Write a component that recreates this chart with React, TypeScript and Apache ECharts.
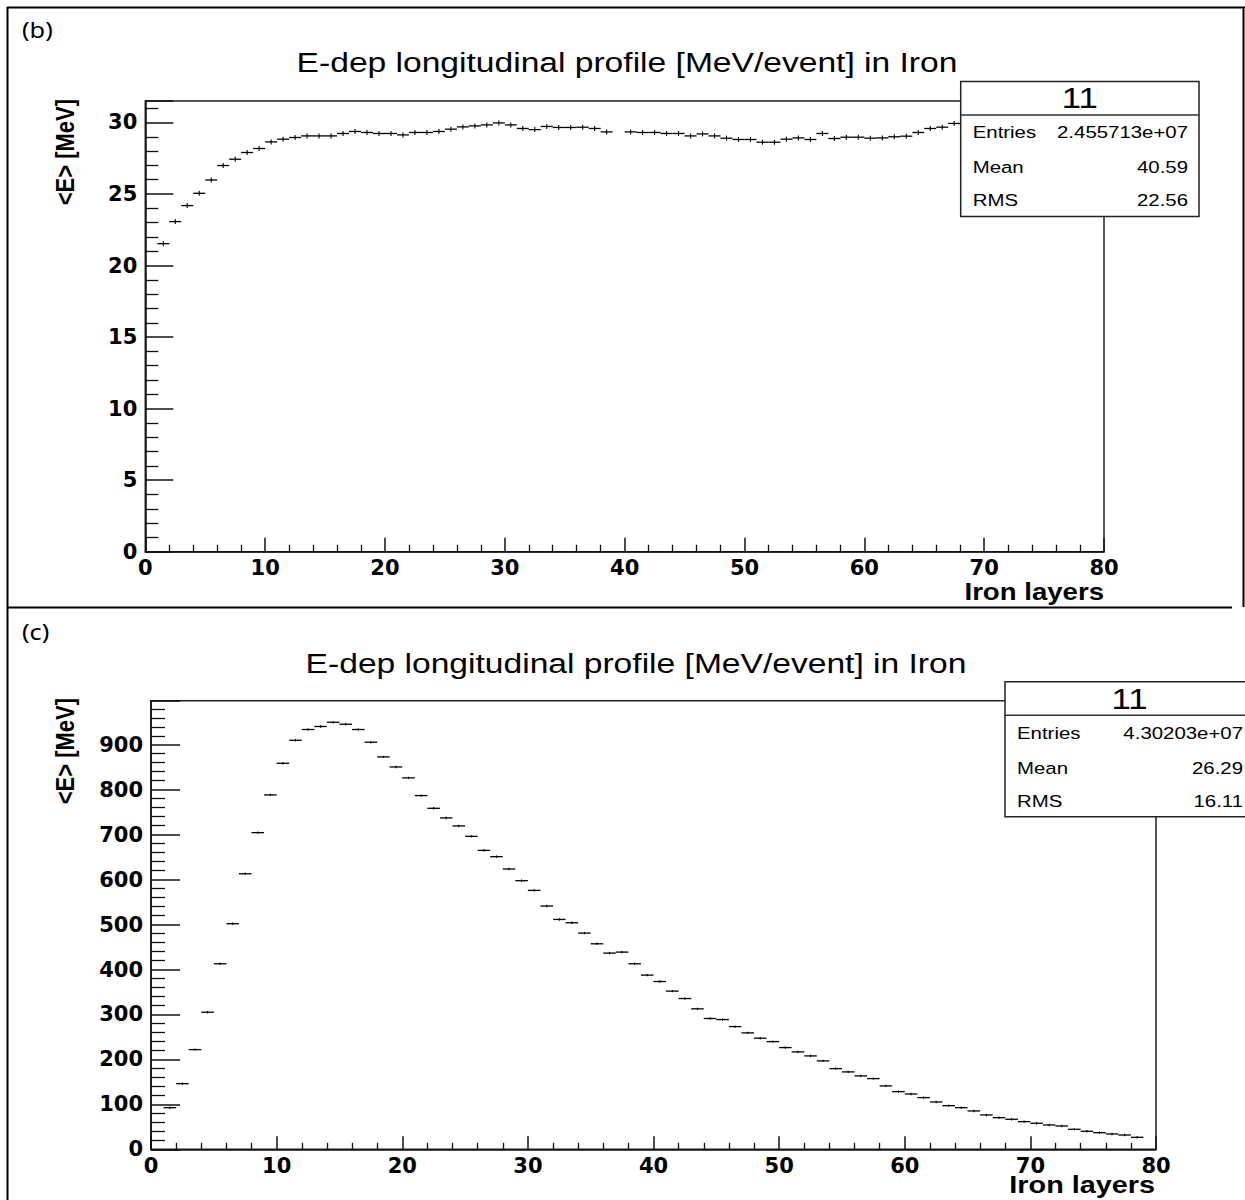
import React, { useEffect, useRef } from 'react';
import * as echarts from 'echarts';

// Panel (b): mean energy deposit per iron layer (bin k covers layer k..k+1); null = empty bin
const layersB = Array.from({ length: 67 }, (_, i) => i + 1);
const valuesB = [
  21.53, 23.07, 24.19, 25.05, 25.98, 26.99, 27.43, 27.9, 28.18, 28.64,
  28.83, 28.95, 29.06, 29.06, 29.06, 29.23, 29.37, 29.3, 29.23, 29.23,
  29.13, 29.3, 29.3, 29.37, 29.53, 29.69, 29.76, 29.83, 29.97, 29.83,
  29.58, 29.5, 29.72, 29.65, 29.65, 29.67, 29.58, 29.34, null, 29.34,
  29.3, 29.3, 29.23, 29.23, 29.06, 29.2, 29.06, 28.9, 28.81, 28.81,
  28.62, 28.62, 28.83, 28.92, 28.81, 29.23, 28.88, 28.97, 28.97, 28.9,
  28.92, 29.0, 29.04, 29.3, 29.58, 29.67, 29.93,
];

// Panel (c)
const layersC = Array.from({ length: 78 }, (_, i) => i + 1);
const valuesC = [
  92.6, 146, 221.8, 305, 412.7, 501.8, 613, 704.5, 788.4, 858.8,
  910, 933.9, 940.6, 950, 945.7, 933.9, 905.6, 873, 850.6, 826.3,
  786.9, 758.6, 737.2, 719.4, 696.2, 665, 651, 623.6, 597.6, 576,
  541.2, 511.4, 504, 481, 457.2, 436.5, 438.7, 412.7, 387.5, 373.3,
  351.9, 335.4, 312.5, 291, 288.6, 273, 259, 247.2, 239.6, 226.3,
  216.7, 207.8, 196.7, 179.5, 172.2, 163.3, 157.3, 141, 128.3, 123,
  115, 105.3, 97.1, 92.6, 85.3, 76.4, 70.4, 66.8, 61.5, 57.9,
  54.1, 51.9, 44.5, 40.1, 37, 34.1, 31.8, 26.7,
];

const statLabels = ['Entries', 'Mean', 'RMS'];
const statValuesB = ['2.455713e+07', '40.59', '22.56'];
const statValuesC = ['4.30203e+07', '26.29', '16.11'];
const histName = '11';
const titleText = 'E-dep longitudinal profile [MeV/event] in Iron';
const xTitle = 'Iron layers';
const yTitle = '<E> [MeV]';

const toData = (layers: number[], vals: (number | null)[]) =>
  layers
    .map((l, i) => (vals[i] == null ? null : [l, vals[i] as number]))
    .filter((d) => d !== null) as number[][];

const renderBin = (half: number) => (params: any, api: any) => {
  const x0 = api.value(0);
  const v = api.value(1);
  const a = api.coord([x0, v]);
  const b = api.coord([x0 + 1, v]);
  const mid = (a[0] + b[0]) / 2;
  return {
    type: 'group',
    children: [
      { type: 'line', shape: { x1: a[0], y1: a[1], x2: b[0], y2: b[1] }, style: { stroke: '#000', lineWidth: 1.3 } },
      { type: 'line', shape: { x1: mid, y1: a[1] - half, x2: mid, y2: a[1] + half }, style: { stroke: '#000', lineWidth: 1.1 } },
    ],
  };
};

const FONT = 'Liberation Sans';
const SX = 1.2;

const txt = (text: string, x: number, y: number, size: number, align: string, extra: any = {}) => ({
  type: 'text',
  x,
  y,
  z: 100,
  scaleX: SX,
  style: { text, fontFamily: FONT, fontSize: size, fill: '#000', align, verticalAlign: 'middle' },
  ...extra,
});

const ln = (x1: number, y1: number, x2: number, y2: number, w = 2, color = '#000') => ({
  type: 'line',
  z: 100,
  shape: { x1, y1, x2, y2 },
  style: { stroke: color, lineWidth: w },
});

const statsBox = (left: number, top: number, width: number, values: string[]) => {
  const els: any[] = [
    { type: 'rect', z: 99, shape: { x: left, y: top, width, height: 135 }, style: { fill: '#fff', stroke: '#222', lineWidth: 1.5 } },
    ln(left, top + 33.5, left + width, top + 33.5, 1.5, '#333'),
    txt(histName, left + width / 2, top + 17, 29, 'center'),
  ];
  const rowY = [top + 51, top + 86, top + 119];
  statLabels.forEach((s, i) => {
    els.push(txt(s, left + 12, rowY[i], 17, 'left'));
    els.push(txt(values[i], left + width - 11, rowY[i], 17, 'right'));
  });
  return els;
};

const xAxisCfg = (grid: number, tickLen: number, fs: number) => ({
  gridIndex: grid,
  type: 'value',
  min: 0,
  max: 80,
  interval: 10,
  axisLine: { show: true, onZero: false, lineStyle: { color: '#111', width: 1.5 } },
  axisTick: { show: true, inside: true, length: tickLen, lineStyle: { color: '#111', width: 1.5 } },
  minorTick: { show: true, splitNumber: 5, length: tickLen / 2, lineStyle: { color: '#111', width: 1.3 } },
  splitLine: { show: false },
  minorSplitLine: { show: false },
  axisLabel: { color: '#000', fontFamily: 'DejaVu Sans', fontWeight: 'bold', fontSize: fs, margin: 6 },
});

const yAxisCfg = (grid: number, max: number, interval: number, tickLen: number, fs: number) => ({
  gridIndex: grid,
  type: 'value',
  min: 0,
  max,
  interval,
  axisLine: { show: true, onZero: false, lineStyle: { color: '#111', width: 1.5 } },
  axisTick: { show: true, inside: true, length: tickLen, lineStyle: { color: '#111', width: 1.5 } },
  minorTick: { show: true, splitNumber: 5, length: Math.round(tickLen / 2.1), lineStyle: { color: '#111', width: 1.3 } },
  splitLine: { show: false },
  minorSplitLine: { show: false },
  axisLabel: {
    color: '#000',
    fontFamily: 'DejaVu Sans',
    fontWeight: 'bold',
    fontSize: fs,
    margin: 8,
    formatter: (v: number) => (Math.abs(v / interval - Math.round(v / interval)) < 1e-6 ? String(v) : ''),
  },
});

export default function App() {
  const ref = useRef<HTMLDivElement>(null);
  useEffect(() => {
    if (!ref.current) return;
    const chart = echarts.init(ref.current, undefined, { renderer: 'svg' });
    const option: any = {
      animation: false,
      backgroundColor: '#fff',
      grid: [
        { left: 145.3, top: 101, width: 958.7, height: 450.7, show: true, borderColor: '#222', borderWidth: 1.5, containLabel: false },
        { left: 151, top: 700.7, width: 1005, height: 448.6, show: true, borderColor: '#222', borderWidth: 1.5, containLabel: false },
      ],
      xAxis: [xAxisCfg(0, 14, 21), xAxisCfg(1, 13, 21)],
      yAxis: [yAxisCfg(0, 31.5, 5, 28, 21), yAxisCfg(1, 998, 100, 29, 21)],
      series: [
        {
          type: 'custom',
          xAxisIndex: 0,
          yAxisIndex: 0,
          encode: { x: 0, y: 1 },
          renderItem: renderBin(2.5),
          data: toData(layersB, valuesB),
        },
        {
          type: 'custom',
          xAxisIndex: 1,
          yAxisIndex: 1,
          encode: { x: 0, y: 1 },
          renderItem: renderBin(1.2),
          data: toData(layersC, valuesC),
        },
      ],
      graphic: [
        // table borders
        ln(7, 7.5, 1245, 7.5),
        ln(7.5, 7, 7.5, 1200),
        ln(1243.5, 7, 1243.5, 607),
        ln(7, 607.5, 1232, 607.5),
        // panel labels
        { type: 'text', x: 22, y: 30, z: 100, scaleX: 1.15, style: { text: '(b)', fontFamily: 'Noto Sans', fontSize: 22, fill: '#000', align: 'left', verticalAlign: 'middle' } },
        { type: 'text', x: 22, y: 632, z: 100, scaleX: 1.15, style: { text: '(c)', fontFamily: 'Noto Sans', fontSize: 22, fill: '#000', align: 'left', verticalAlign: 'middle' } },
        // titles
        txt(titleText, 627, 62, 28, 'center'),
        txt(titleText, 636, 663, 28, 'center'),
        // axis titles
        { type: 'text', x: 65, y: 99, z: 100, rotation: Math.PI / 2, scaleY: SX, style: { text: yTitle, fontFamily: FONT, fontWeight: 'bold', fontSize: 22, fill: '#000', align: 'right', verticalAlign: 'middle' } },
        { type: 'text', x: 65, y: 698, z: 100, rotation: Math.PI / 2, scaleY: SX, style: { text: yTitle, fontFamily: FONT, fontWeight: 'bold', fontSize: 22, fill: '#000', align: 'right', verticalAlign: 'middle' } },
        { type: 'text', x: 1104, y: 592, z: 100, scaleX: SX, style: { text: xTitle, fontFamily: FONT, fontWeight: 'bold', fontSize: 23, fill: '#000', align: 'right', verticalAlign: 'middle' } },
        { type: 'text', x: 1155, y: 1185, z: 100, scaleX: SX, style: { text: xTitle, fontFamily: FONT, fontWeight: 'bold', fontSize: 24, fill: '#000', align: 'right', verticalAlign: 'middle' } },
        // stats boxes
        ...statsBox(960.7, 81.5, 238.3, statValuesB),
        ...statsBox(1005, 681.7, 249, statValuesC),
      ],
    };
    chart.setOption(option);
    return () => chart.dispose();
  }, []);
  return <div ref={ref} style={{ position: 'absolute', left: 0, top: 0, width: 1245, height: 1200 }} />;
}
